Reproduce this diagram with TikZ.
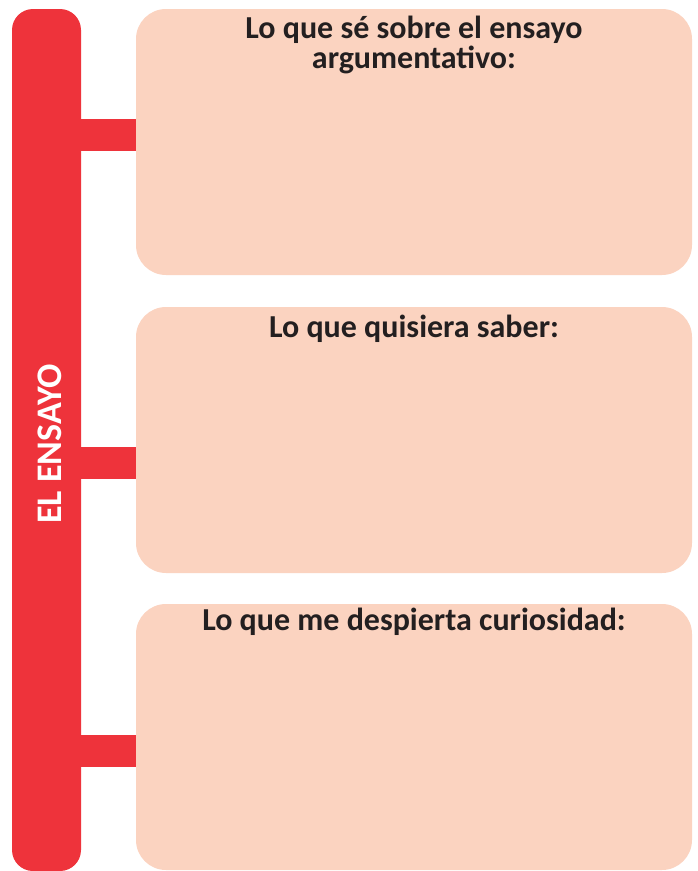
\documentclass[tikz,border=0pt]{standalone}
\usepackage{fontspec}
\setmainfont{Carlito}
\definecolor{barred}{RGB}{238,51,59}
\definecolor{boxfill}{RGB}{251,211,192}
\definecolor{titletext}{RGB}{35,31,32}
\begin{document}
\begin{tikzpicture}[x=1pt,y=-1pt,
  bar/.style={fill=barred, draw=none, rounded corners=21pt, minimum width=69pt, minimum height=862pt, inner sep=0pt},
  panel/.style={fill=boxfill, draw=none, rounded corners=30pt, minimum width=556pt, minimum height=266pt, inner sep=0pt},
  title/.style={font=\bfseries\fontsize{32}{30}\selectfont, text=titletext, align=center, anchor=base, inner sep=0pt},
  link/.style={draw=barred, line width=32pt}]
\useasboundingbox (0,0) rectangle (698,871);
\node[bar] (bar) at (46.5,440) {};
\node[rotate=90, text=white, font=\bfseries\fontsize{36}{36}\selectfont] (lbl) at (50,444) {EL ENSAYO};
\node[panel] (p1) at (414,142) {};
\node[panel] (p2) at (414,440) {};
\node[panel] (p3) at (414,737) {};
\coordinate (c1) at (0,135);
\coordinate (c2) at (0,462.5);
\coordinate (c3) at (0,751);
\draw[link] (bar.east |- c1) -- (p1.west |- c1);
\draw[link] (bar.east |- c2) -- (p2.west |- c2);
\draw[link] (bar.east |- c3) -- (p3.west |- c3);
\node[title] (t1) at (414,68) {Lo que sé sobre el ensayo\\argumentativo:};
\node[title] (t2) at (414,337) {Lo que quisiera saber:};
\node[title] (t3) at (414,630) {Lo que me despierta curiosidad:};
\end{tikzpicture}
\end{document}
